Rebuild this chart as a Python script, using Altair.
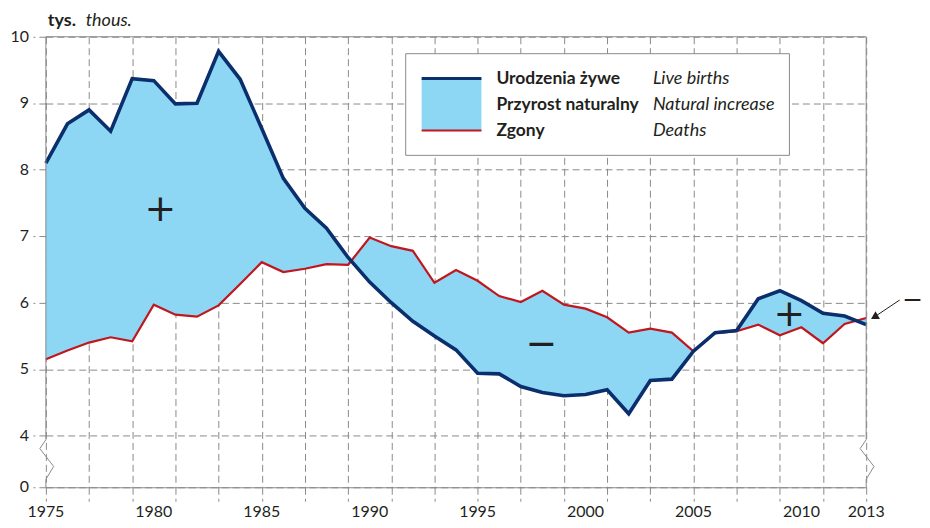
import altair as alt
import pandas as pd

# ---------------- data (thousands) ----------------
years = list(range(1975, 2014))
births = [8.10, 8.69, 8.90, 8.58, 9.37, 9.34, 8.99, 9.00, 9.78, 9.36,
          8.62, 7.87, 7.42, 7.12, 6.68, 6.31, 6.00, 5.72, 5.50, 5.29,
          4.94, 4.93, 4.74, 4.65, 4.60, 4.62, 4.69, 4.33, 4.83, 4.85,
          5.27, 5.55, 5.58, 6.06, 6.18, 6.03, 5.84, 5.80, 5.67]
deaths = [5.15, 5.28, 5.40, 5.48, 5.42, 5.97, 5.82, 5.79, 5.96, 6.28,
          6.61, 6.46, 6.51, 6.58, 6.57, 6.98, 6.85, 6.78, 6.30, 6.49,
          6.33, 6.10, 6.01, 6.18, 5.97, 5.91, 5.78, 5.55, 5.61, 5.55,
          5.27, 5.54, 5.57, 5.67, 5.51, 5.63, 5.39, 5.68, 5.77]
ZERO_POS = 3.224          # broken axis: where "0" sits
y_ticks = [ZERO_POS, 4, 5, 6, 7, 8, 9, 10]
y_tick_labels = ["0", "4", "5", "6", "7", "8", "9", "10"]
x_label_years = [1975, 1980, 1985, 1990, 1995, 2000, 2005, 2010, 2013]
legend_pl = ["Urodzenia żywe", "Przyrost naturalny", "Zgony"]
legend_en = ["Live births", "Natural increase", "Deaths"]

# axis-break zigzag shape (offsets in years / axis units)
brk_dx = [0, 0, -0.28, 0.36, 0, 0]
brk_y = [10, 3.94, 3.806, 3.537, 3.343, ZERO_POS]

df = pd.DataFrame({"year": years, "births": births, "deaths": deaths})
brk = pd.DataFrame({
    "x": [1975 + d for d in brk_dx] + [2013 + d for d in brk_dx],
    "y": brk_y + brk_y,
    "i": list(range(6)) * 2,
    "side": ["L"] * 6 + ["R"] * 6,
})
xlab = pd.DataFrame({"year": x_label_years})
ylab = pd.DataFrame({"v": y_ticks, "t": y_tick_labels})
one = pd.DataFrame({"k": [0]})

W, H = 823, 452
FONT = "Lato"
GRID = "#8a8a8a"
TXT = "#231F20"
FILL = "#8DD7F5"
BLUE = "#0B2F6D"
RED = "#C0161E"

xscale = alt.Scale(domain=[1975, 2013], nice=False, zero=False)
yscale = alt.Scale(domain=[ZERO_POS, 10], nice=False, zero=False)

xaxis = alt.Axis(values=years, labels=False,
                 grid=True, gridDash=[7, 4], gridColor=GRID, gridWidth=1,
                 tickDash=[7, 4], tickSize=14, tickColor=GRID, tickWidth=1,
                 domainColor=GRID, domainWidth=1, title=None)
yaxis = alt.Axis(values=y_ticks, labels=False,
                 grid=True, gridDash=[7, 4], gridColor=GRID, gridWidth=1,
                 tickDash=[7, 4], tickSize=13, tickColor=GRID,
                 domain=False, title=None)

base = alt.Chart(df)
area = base.mark_area(color=FILL, opacity=1).encode(
    x=alt.X("year:Q", scale=xscale, axis=xaxis),
    y=alt.Y("births:Q", scale=yscale, axis=yaxis),
    y2="deaths:Q",
)
line_d = base.mark_line(color=RED, strokeWidth=2.2).encode(
    x="year:Q", y="deaths:Q")
line_b = base.mark_line(color=BLUE, strokeWidth=3.6).encode(
    x="year:Q", y="births:Q")

# tick labels
xl = alt.Chart(xlab).mark_text(font=FONT, fontSize=16, color=TXT, align="center",
                               baseline="top").encode(
    x="year:Q", y=alt.value(H + 17), text=alt.Text("year:Q", format="d"))
yl = alt.Chart(ylab).mark_text(font=FONT, fontSize=16, color=TXT, align="right",
                               baseline="middle").encode(
    y="v:Q", x=alt.value(-17), text="t:N")

# frame: top border and the broken side axes
top = alt.Chart(one).mark_rule(color=GRID, strokeWidth=1).encode(
    x=alt.value(0), x2=alt.value(W), y=alt.value(0))
sides = alt.Chart(brk).mark_line(color=GRID, strokeWidth=1).encode(
    x="x:Q", y="y:Q", order="i:Q", detail="side:N")

# + / - annotations
def sign(t, xv, yv, size=38):
    return alt.Chart(one).mark_text(text=t, font="DejaVu Sans", fontSize=size,
                                     color=TXT, align="center", baseline="middle").encode(
        x=alt.datum(xv), y=alt.datum(yv))

signs = [sign("+", 1980.3, 7.39), sign("\u2212", 1997.95, 5.37),
         sign("+", 2009.44, 5.82), sign("\u2212", 2015.15, 6.04, 25)]

arrow_line = alt.Chart(one).mark_rule(color=TXT, strokeWidth=1).encode(
    x=alt.datum(2014.55), y=alt.datum(6.04), x2=alt.datum(2013.4), y2=alt.datum(5.79))
arrow_head = alt.Chart(one).mark_point(shape="triangle-left", filled=True, color=TXT,
                                      size=80, angle=330, opacity=1).encode(
    x=alt.datum(2013.38), y=alt.datum(5.785))

# unit label
t1 = alt.Chart(one).mark_text(text="tys.", font=FONT, fontSize=18, fontWeight="bold",
                              color=TXT, align="left", baseline="alphabetic").encode(
    x=alt.value(2), y=alt.value(-11))
t2 = alt.Chart(one).mark_text(text="thous.", font=FONT, fontSize=18, fontStyle="italic",
                              color=TXT, align="left", baseline="alphabetic").encode(
    x=alt.value(40), y=alt.value(-11))

# legend
box = alt.Chart(one).mark_rect(fill="white", stroke=GRID, strokeWidth=1).encode(
    x=alt.value(361), x2=alt.value(746), y=alt.value(17), y2=alt.value(119))
sw = alt.Chart(one).mark_rect(fill=FILL).encode(
    x=alt.value(377), x2=alt.value(437), y=alt.value(42), y2=alt.value(94))
sw_b = alt.Chart(one).mark_rule(color=BLUE, strokeWidth=3).encode(
    x=alt.value(377), x2=alt.value(437), y=alt.value(42))
sw_r = alt.Chart(one).mark_rule(color=RED, strokeWidth=2).encode(
    x=alt.value(377), x2=alt.value(437), y=alt.value(94))
leg_txt = []
for k, (pl, en) in enumerate(zip(legend_pl, legend_en)):
    yy = 42 + 26.5 * k
    leg_txt.append(alt.Chart(one).mark_text(text=pl, font=FONT, fontSize=17.5, fontWeight="bold",
                                            color=TXT, align="left", baseline="middle").encode(
        x=alt.value(452), y=alt.value(yy)))
    leg_txt.append(alt.Chart(one).mark_text(text=en, font=FONT, fontSize=18, fontStyle="italic",
                                            color=TXT, align="left", baseline="middle").encode(
        x=alt.value(609), y=alt.value(yy)))

chart = alt.layer(area, line_d, line_b, xl, yl, top, sides, *signs, arrow_line, arrow_head,
                  t1, t2, box, sw, sw_b, sw_r, *leg_txt).properties(
    width=W, height=H,
    padding={"left": 38, "top": 28, "right": 56, "bottom": 31},
    autosize=alt.AutoSizeParams(type="none"),
).configure_view(stroke=None)

chart.save("out.html", embed_options={"renderer": "svg", "actions": False})
